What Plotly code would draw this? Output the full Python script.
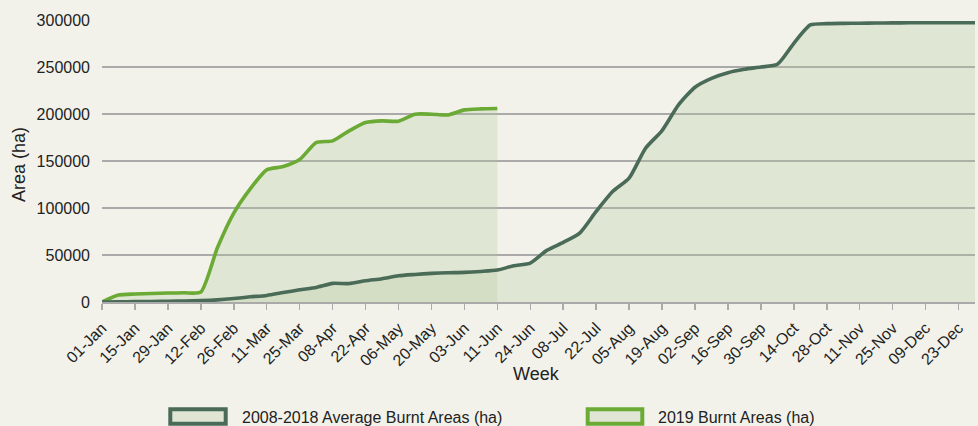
import plotly.graph_objects as go

weeks = [
    "01-Jan", "08-Jan", "15-Jan", "22-Jan", "29-Jan", "05-Feb", "12-Feb", "19-Feb",
    "26-Feb", "04-Mar", "11-Mar", "18-Mar", "25-Mar", "01-Apr", "08-Apr", "15-Apr",
    "22-Apr", "29-Apr", "06-May", "13-May", "20-May", "27-May", "03-Jun", "10-Jun",
    "11-Jun", "17-Jun", "24-Jun", "01-Jul", "08-Jul", "15-Jul", "22-Jul", "29-Jul",
    "05-Aug", "12-Aug", "19-Aug", "26-Aug", "02-Sep", "09-Sep", "16-Sep", "23-Sep",
    "30-Sep", "07-Oct", "14-Oct", "21-Oct", "28-Oct", "04-Nov", "11-Nov", "18-Nov",
    "25-Nov", "02-Dec", "09-Dec", "16-Dec", "23-Dec", "30-Dec",
]

avg_2008_2018 = [
    0, 200, 400, 600, 800, 1100, 1500, 2300, 3700, 5500,
    7000, 10000, 13000, 15500, 19800, 19600, 22600, 24800, 27900, 29300,
    30400, 31100, 31500, 32500, 34000, 38600, 41400, 54900, 63400, 73300,
    96300, 117500, 131800, 163600, 182400, 209700, 228500, 238000, 244000, 247600,
    250000, 252900, 275200, 294700, 296100, 296400, 296600, 296800, 296900, 297000,
    297000, 297100, 297100, 297100,
]

burnt_2019 = [
    0, 7400, 8500, 9100, 9500, 9800, 10600, 57400, 94600, 120400,
    140600, 144100, 151500, 169600, 171400, 182000, 190900, 192700, 192300, 199800,
    199800, 199000, 204400, 205400, 205800,
]

tick_labels = weeks[::2]
y_ticks = [0, 50000, 100000, 150000, 200000, 250000, 300000]

series_names = ["2008-2018 Average Burnt Areas (ha)", "2019 Burnt Areas (ha)"]

DARK = "#4a6b57"
GREEN = "#6aaa35"
FILL = "rgba(178,202,155,0.28)"
BG = "#f2f2ea"
GRID = "#aaaaaa"
TXT = "#222222"
FONT = "Liberation Sans, Arial, sans-serif"

fig = go.Figure()
fig.add_trace(go.Scatter(
    x=weeks[:len(burnt_2019)], y=burnt_2019, name=series_names[1], mode="lines",
    line=dict(color=GREEN, width=3.6, shape="spline", smoothing=0.6),
    fill="tozeroy", fillcolor=FILL, hoverinfo="x+y",
))
fig.add_trace(go.Scatter(
    x=weeks, y=avg_2008_2018, name=series_names[0], mode="lines",
    line=dict(color=DARK, width=3.6, shape="spline", smoothing=0.6),
    fill="tozeroy", fillcolor=FILL, hoverinfo="x+y",
))

L, R, T, B = 102, 3, 20, 124
W, H = 978, 426
pw, ph = W - L - R, H - T - B


def px_x(px):
    return (px - L) / pw


def px_y(py):
    return (H - B - py) / ph


shapes = []
annotations = []
legend_items = [
    (series_names[0], DARK, 170.3, 225.7, 240),
    (series_names[1], GREEN, 587.7, 642.3, 656),
]
for name, col, x0, x1, tx in legend_items:
    shapes.append(dict(
        type="rect", xref="paper", yref="paper",
        x0=px_x(x0), x1=px_x(x1), y0=px_y(423.8), y1=px_y(409.3),
        line=dict(color=col, width=4), fillcolor="#e0e6d3", layer="above",
    ))
    annotations.append(dict(
        xref="paper", yref="paper", x=px_x(tx), y=px_y(417.3),
        xanchor="left", yanchor="middle", text=name, showarrow=False,
        font=dict(size=16, color=TXT, family=FONT),
    ))

annotations.append(dict(
    xref="paper", yref="paper", x=px_x(536), y=px_y(374),
    xanchor="center", yanchor="middle", text="Week", showarrow=False,
    font=dict(size=18, color=TXT, family=FONT),
))
annotations.append(dict(
    xref="paper", yref="paper", x=px_x(18.5), y=px_y(164.5),
    xanchor="center", yanchor="middle", text="Area (ha)", showarrow=False,
    textangle=-90, font=dict(size=18, color=TXT, family=FONT),
))

fig.update_layout(
    width=W, height=H,
    margin=dict(l=L, r=R, t=T, b=B, pad=0),
    paper_bgcolor=BG, plot_bgcolor=BG,
    showlegend=False,
    font=dict(family=FONT, size=16, color=TXT),
    shapes=shapes, annotations=annotations,
    xaxis=dict(
        type="category", categoryorder="array", categoryarray=weeks,
        range=[0, len(weeks) - 1],
        tickmode="array", tickvals=tick_labels, ticktext=tick_labels,
        tickangle=-45, tickfont=dict(size=16, color=TXT, family=FONT),
        showgrid=False, showline=True, linecolor=GRID, linewidth=1.5,
        ticks="outside", ticklen=6, tickwidth=1.5, tickcolor=GRID,
        ticklabelstandoff=3,
        zeroline=False, fixedrange=True,
    ),
    yaxis=dict(
        range=[0, 300000], tickmode="array", tickvals=y_ticks,
        ticktext=[str(v) for v in y_ticks],
        tickfont=dict(size=16, color=TXT, family=FONT),
        showgrid=True, gridcolor=GRID, gridwidth=1.5,
        zeroline=False, showline=False, ticks="", ticklabelstandoff=11,
        fixedrange=True,
    ),
)

fig.write_html(
    "out.html",
    config={"displayModeBar": False, "staticPlot": True},
    post_script="document.body.style.margin='0px';document.body.style.background='%s';document.body.style.overflow='hidden';" % BG,
)
